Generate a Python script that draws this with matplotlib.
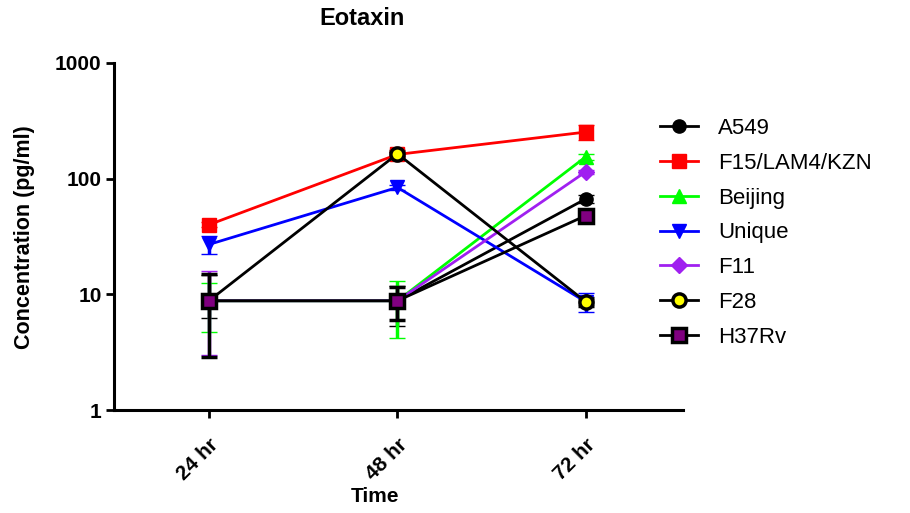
import matplotlib
matplotlib.use("Agg")
import matplotlib.pyplot as plt
from matplotlib.lines import Line2D
import numpy as np

plt.rcParams['font.family'] = ['Liberation Sans', 'DejaVu Sans']

categories = ["24 hr", "48 hr", "72 hr"]
series = ["A549", "F15/LAM4/KZN", "Beijing", "Unique", "F11", "F28", "H37Rv"]

a549_vals = [8.8, 8.8, 67]
a549_low = [6.2, 5.3, 62]
a549_high = [14.8, 11.7, 72]

f15_vals = [40, 162, 253]
f15_low = [38, 155, 215]
f15_high = [42, 170, 290]

beijing_vals = [8.8, 8.8, 155]
beijing_low = [4.7, 4.2, 145]
beijing_high = [12.5, 13.0, 165]

unique_vals = [27, 84, 8.6]
unique_low = [22.3, 80, 7.1]
unique_high = [32, 88, 10.3]

f11_vals = [8.8, 8.8, 115]
f11_low = [3.0, 8.0, 110]
f11_high = [15.9, 9.5, 120]

f28_vals = [8.8, 164, 8.6]
f28_low = [8.0, 155, 8.0]
f28_high = [9.6, 172, 9.3]

h37_vals = [8.8, 8.8, 48]
h37_low = [2.9, 6.0, 45]
h37_high = [15.0, 11.5, 51]

yticks = [1, 10, 100, 1000]
ytick_labels = ["1", "10", "100", "1000"]

styles = [
    dict(color="black", marker="o", mfc="black", mec="black", ms=9.5, mew=1),
    dict(color="#FF0000", marker="s", mfc="#FF0000", mec="#FF0000", ms=9.5, mew=1),
    dict(color="#00FF00", marker="^", mfc="#00FF00", mec="#00FF00", ms=10.5, mew=1),
    dict(color="#0000FF", marker="v", mfc="#0000FF", mec="#0000FF", ms=10.5, mew=1),
    dict(color="#A020F0", marker="D", mfc="#A020F0", mec="#A020F0", ms=8.5, mew=1),
    dict(color="black", marker="o", mfc="#FFFF00", mec="black", ms=9.5, mew=2.5),
    dict(color="black", marker="s", mfc="#800080", mec="black", ms=9.5, mew=2.5),
]
data = [
    (a549_vals, a549_low, a549_high),
    (f15_vals, f15_low, f15_high),
    (beijing_vals, beijing_low, beijing_high),
    (unique_vals, unique_low, unique_high),
    (f11_vals, f11_low, f11_high),
    (f28_vals, f28_low, f28_high),
    (h37_vals, h37_low, h37_high),
]

W, H = 910, 513
fig = plt.figure(figsize=(W / 100, H / 100), dpi=100)
ax = fig.add_axes([114 / W, 1 - 410 / H, (683 - 114) / W, (410 - 63) / H])

x = np.arange(len(categories))
handles = []
for name, st, (v, lo, hi) in zip(series, styles, data):
    v = np.array(v, float)
    yerr = [v - np.array(lo), np.array(hi) - v]
    c = st["color"]
    ax.errorbar(x, v, yerr=yerr, color=c, lw=2, marker=st["marker"],
                ms=st["ms"], mfc=st["mfc"], mec=st["mec"], mew=st["mew"],
                ecolor=c, elinewidth=2.5, capsize=5.5, capthick=2.5)
    handles.append(Line2D([], [], color=c, lw=2, marker=st["marker"],
                          ms=st["ms"], mfc=st["mfc"], mec=st["mec"],
                          mew=st["mew"]))

ax.set_yscale("log")
ax.set_ylim(1, 1000)
ax.set_xlim(-0.504, 2.515)
ax.set_yticks(yticks)
ax.set_yticklabels(ytick_labels)
ax.yaxis.set_minor_locator(matplotlib.ticker.NullLocator())
ax.set_xticks(x)
ax.set_xticklabels(categories, rotation=45, ha="right", rotation_mode="anchor")

for s in ["top", "right"]:
    ax.spines[s].set_visible(False)
for s in ["left", "bottom"]:
    ax.spines[s].set_linewidth(2.2)
ax.tick_params(axis="both", width=2, length=6, labelsize=15)
ax.tick_params(axis="x", pad=12)
ax.tick_params(axis="y", pad=3)
for lab in ax.get_xticklabels() + ax.get_yticklabels():
    lab.set_fontweight("bold")

fig.text(25 / W, 1 - 237 / H, "Concentration (pg/ml)", rotation=90,
         ha="center", va="center", fontsize=15.5, fontweight="bold")
fig.text(375 / W, 1 - 497 / H, "Time", ha="center", va="center",
         fontsize=15, fontweight="bold")
fig.text(362 / W, 1 - 19 / H, "Eotaxin", ha="center", va="center",
         fontsize=17, fontweight="bold")

leg = fig.legend(handles=handles, labels=series, loc="upper left",
                 bbox_to_anchor=(660 / W, 1 - 118 / H), frameon=False,
                 fontsize=16, handlelength=1.7, handletextpad=0.9,
                 labelspacing=0.62, borderpad=0, borderaxespad=0)

fig.savefig("out.png", dpi=100)
